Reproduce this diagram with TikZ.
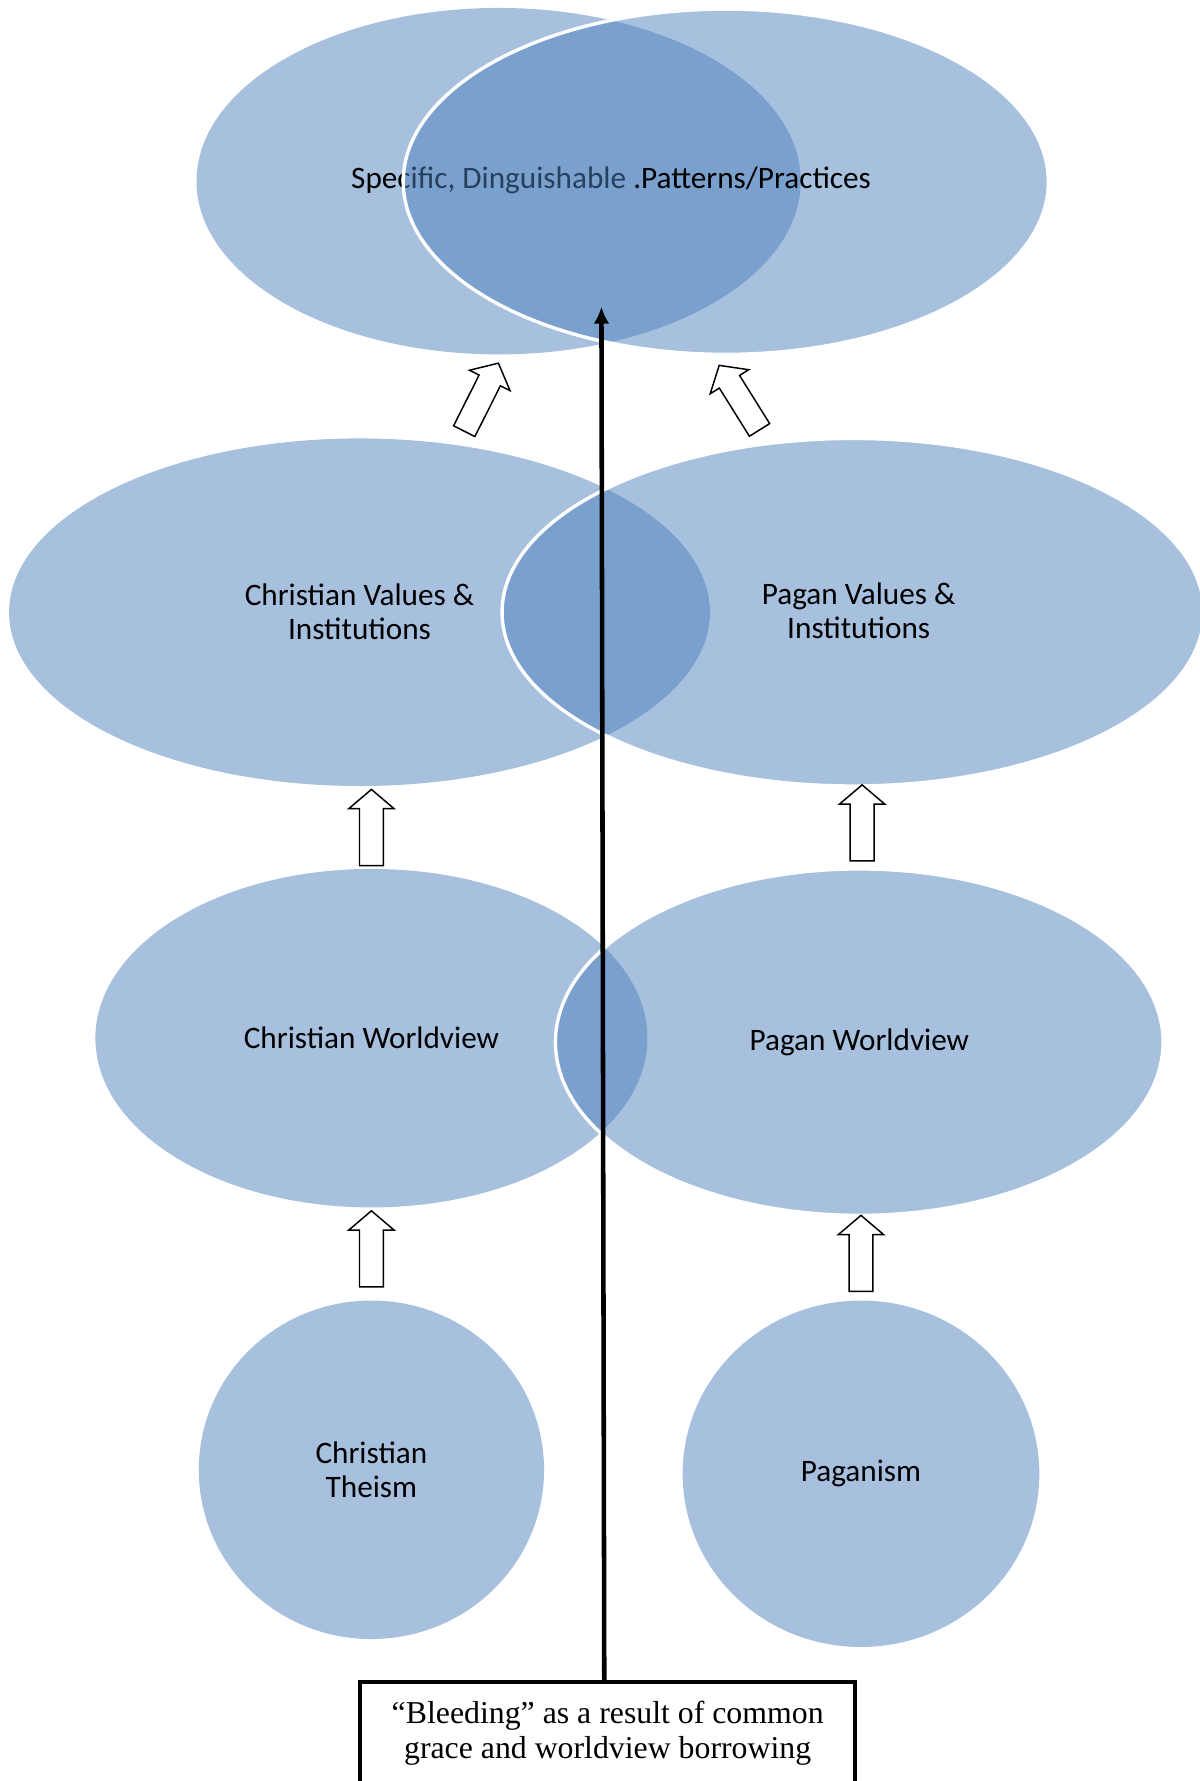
\documentclass[tikz,border=0pt]{standalone}
\usepackage{fontspec}
\setmainfont{Liberation Serif}
\newfontfamily\calib{Carlito}
\usetikzlibrary{shapes.geometric,arrows.meta}
\definecolor{vblue}{RGB}{79,129,189}
\begin{document}
\begin{tikzpicture}[x=1pt,y=-1pt,
  lbl/.style={font=\calib\fontsize{27.5}{30}\selectfont, text=black},
  venn/.style={ellipse, fill=vblue, fill opacity=0.5, text opacity=1, inner sep=0pt, lbl, align=center},
  vennw/.style={venn, draw=white, line width=3pt, draw opacity=1},
  blk/.style={draw=black, fill=white, line width=1.3pt, line join=miter},
  uparr/.pic={\draw[blk] (-10.5,0) -- (-10.5,-50) -- (-20,-50) -- (0,-67) -- (20,-50) -- (10.5,-50) -- (10.5,0) -- cycle;}
]
\useasboundingbox (0,0) rectangle (1056,1568);
% top row
\node[venn, minimum width=532, minimum height=305] (spl) at (439,159.5) {};
\node[lbl, anchor=base west, inner sep=0pt] (spt) at (309,166) {Specific, Dinguishable};
\node[vennw, minimum width=568, minimum height=304] (spr) at (639,160) {};
\node[lbl, anchor=base west, inner sep=0pt] (ppt) at (309,166) {\phantom{Specific, Dinguishable} .Patterns/Practices};
% second row
\node[venn, minimum width=617, minimum height=306] (cvi) at (316.5,539) {Christian Values \&\\Institutions};
\node[vennw, minimum width=618, minimum height=306] (pvi) at (751,539) {};
\node[lbl, align=center, inner sep=0pt] (pvt) at (756,538) {Pagan Values \&\\Institutions};
% third row
\node[venn, minimum width=486, minimum height=298] (cw) at (327,914) {Christian Worldview};
\node[vennw, minimum width=535, minimum height=305] (pw) at (756.5,917.5) {Pagan Worldview};
% bottom row
\node[venn, minimum width=304, minimum height=298] (ct) at (327,1294) {Christian\\Theism};
\node[venn, minimum width=314, minimum height=305] (pg) at (758,1297.5) {Paganism};
% block arrows
\pic[rotate=-26.7] at (408.7,379.6) {uparr};
\pic[rotate=32] at (668.7,378.5) {uparr};
\pic at (327,762) {uparr};
\pic at (759,758) {uparr};
\pic at (327,1133) {uparr};
\pic at (758,1137) {uparr};
% bleeding box and arrow
\node[draw, line width=3.5pt, fill=white, minimum width=436, minimum height=90, inner sep=0pt, align=center, font=\fontsize{28}{31}\selectfont] (bleed) at (535,1526) {“Bleeding” as a result of common\\grace and worldview borrowing};
\coordinate (tip) at (529.5,270);
\draw[line width=4pt, -{Latex[length=15pt,width=14pt]}] ([xshift=-3pt]bleed.north) -- (tip);
\end{tikzpicture}
\end{document}
